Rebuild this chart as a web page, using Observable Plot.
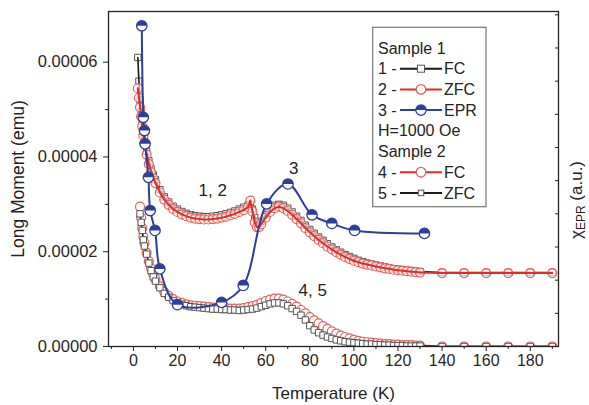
<!DOCTYPE html>
<html><head><meta charset="utf-8">
<script src="https://cdn.jsdelivr.net/npm/d3@7"></script>
<script src="https://cdn.jsdelivr.net/npm/@observablehq/plot@0.6"></script>
<style>
body{margin:0;background:#fff;font-family:"Liberation Sans",Arial,sans-serif;}
#chart{position:relative;width:589px;height:405px;overflow:hidden;}
</style>
</head><body><div id="chart"></div>
<script>
// ---- Data (moment values in units of 1e-5 emu) ----
const s1Temp = [2,2.5,3,3.5,4,4.5,5,6,7,8,9,10,12,14,16,18,20,22,24,26,28,30,32,34,36,38,40,42,44,46,48,50,52,53,54,55,56,57,58,60,62,64,66,68,70,72,74,76,78,80,82,84,86,88,90,92,94,96,98,100,102,104,106,108,110,112,114,116,118,120,122,124,126,128,130,140,150,160,170,180,190];
const s1FC = [6.1,5.6,5.2,4.95,4.75,4.55,4.4,4.12,3.92,3.75,3.62,3.52,3.31,3.16,3.05,2.96,2.9,2.85,2.81,2.78,2.76,2.75,2.74,2.74,2.75,2.76,2.78,2.8,2.83,2.86,2.9,2.94,2.98,3.0,2.9,2.72,2.6,2.58,2.64,2.78,2.9,2.98,3.0,2.98,2.92,2.84,2.75,2.66,2.56,2.47,2.39,2.31,2.24,2.17,2.1,2.04,1.99,1.94,1.9,1.86,1.82,1.79,1.76,1.74,1.72,1.7,1.68,1.66,1.64,1.63,1.62,1.61,1.6,1.59,1.58,1.56,1.56,1.56,1.56,1.56,1.56];
const s1ZFC = [5.45,5.25,5.05,4.85,4.65,4.45,4.3,4.05,3.85,3.68,3.55,3.45,3.25,3.1,2.99,2.9,2.84,2.79,2.75,2.72,2.7,2.69,2.68,2.68,2.69,2.7,2.72,2.74,2.77,2.8,2.84,2.88,2.94,3.08,2.85,2.62,2.52,2.52,2.58,2.72,2.84,2.92,2.95,2.92,2.86,2.78,2.69,2.6,2.5,2.41,2.33,2.25,2.18,2.11,2.05,1.99,1.94,1.89,1.85,1.81,1.78,1.75,1.73,1.71,1.69,1.67,1.65,1.64,1.62,1.61,1.6,1.59,1.58,1.57,1.56,1.55,1.55,1.55,1.55,1.55,1.55];

const s2Temp = [3,3.5,4,4.5,5,6,7,8,9,10,12,14,16,18,20,22,24,26,28,30,32,34,36,38,40,42,44,46,48,50,52,54,56,58,60,62,64,66,68,70,72,74,76,78,80,82,84,86,88,90,92,94,96,98,100,102,104,106,108,110,112,114,116,118,120,122,124,126,128,130,140,150,160,170,180,190];
const s2FC = [2.95,2.72,2.5,2.32,2.18,1.98,1.8,1.65,1.52,1.42,1.27,1.15,1.07,1.0,0.95,0.92,0.89,0.87,0.86,0.85,0.84,0.83,0.82,0.82,0.81,0.81,0.8,0.8,0.8,0.81,0.83,0.85,0.88,0.92,0.96,0.99,1.01,1.01,0.99,0.95,0.9,0.84,0.77,0.7,0.62,0.55,0.49,0.43,0.37,0.32,0.27,0.23,0.2,0.17,0.14,0.12,0.1,0.09,0.08,0.07,0.06,0.05,0.05,0.04,0.04,0.03,0.03,0.03,0.02,0.02,0,0,0,0,0,0];
const s2ZFC = [2.8,2.62,2.45,2.25,2.12,1.95,1.76,1.6,1.47,1.38,1.24,1.12,1.04,0.97,0.92,0.89,0.86,0.84,0.83,0.82,0.81,0.8,0.79,0.79,0.78,0.78,0.77,0.77,0.76,0.77,0.78,0.79,0.81,0.84,0.87,0.9,0.92,0.92,0.9,0.86,0.8,0.74,0.66,0.56,0.44,0.35,0.29,0.24,0.2,0.17,0.14,0.12,0.1,0.09,0.08,0.07,0.06,0.05,0.05,0.04,0.04,0.03,0.03,0.02,0.02,0.02,0.01,0.01,0.01,0.01,0,0,0,0,0,0];

// EPR susceptibility (a.u., right axis)
const eprTemp = [3.8,4.5,5.0,5.3,6.8,7.6,9.8,12,20,40,49.8,60.4,70.1,81,90,100.3,132];
const eprChi  = [9.67,6.91,6.51,6.11,5.10,4.10,3.50,2.34,1.26,1.33,1.84,4.30,4.90,3.97,3.71,3.50,3.41];
const eprTicks = [0,1,2,3,4,5,6,7,8,9,10];
const eprToEmu = 0.7e-5;   // right-axis unit expressed in left-axis units

const xTicks = [0,20,40,60,80,100,120,140,160,180];
const xMinor = [-10,10,30,50,70,90,110,130,150,170,190];
const yTicks = [0,0.00002,0.00004,0.00006];
const yMinor = [0.00001,0.00003,0.00005];

const annText = ["1, 2","3","4, 5"];
const annT = [36,72.7,81.3];
const annM = [3.29e-5,3.75e-5,1.18e-5];

// ---- Build tables ----
const E = 1e-5;
const s1 = s1Temp.map((t,i)=>({t, fc:s1FC[i]*E, zfc:s1ZFC[i]*E}));
const s2 = s2Temp.map((t,i)=>({t, fc:s2FC[i]*E, zfc:s2ZFC[i]*E}));
const epr = eprTemp.map((t,i)=>({t, m:eprChi[i]*eprToEmu}));
const ann = annText.map((s,i)=>({s, t:annT[i], m:annM[i]}));

const RED="#e32b26", RED_M="#e8605a", BLK="#1a1a1a", SQ="#555", BLUE="#2d3e9c";
const halfTop = {draw(ctx,size){const r=Math.sqrt(size/Math.PI);ctx.moveTo(r,0);ctx.arc(0,0,r,0,Math.PI,true);ctx.closePath();}};

const font = "Liberation Sans, Arial, sans-serif";
const svg = Plot.plot({
  width:589, height:405,
  marginLeft:108, marginRight:31, marginTop:11, marginBottom:59,
  style:{fontFamily:font, fontSize:"16px", color:"#262626", background:"white"},
  x:{domain:[-11.3,192.8]},
  y:{domain:[0,7.07e-5]},
  marks:[
    // sample 2
    Plot.line(s2,{x:"t",y:"fc",stroke:RED,strokeWidth:2,clip:true}),
    Plot.dot(s2,{x:"t",y:"fc",r:4.5,stroke:RED_M,strokeWidth:1.2,fill:"white",clip:true}),
    Plot.line(s2,{x:"t",y:"zfc",stroke:BLK,strokeWidth:1.6,clip:true}),
    Plot.dot(s2,{x:"t",y:"zfc",symbol:"square",r:3.6,stroke:SQ,strokeWidth:1,fill:"white",clip:true}),
    // sample 1
    Plot.dot(s1,{x:"t",y:"fc",symbol:"square",r:3.6,stroke:SQ,strokeWidth:1,fill:"white",clip:true}),
    Plot.line(s1,{x:"t",y:"fc",stroke:BLK,strokeWidth:1.6,clip:true}),
    Plot.dot(s1,{x:"t",y:"zfc",r:4.5,stroke:RED_M,strokeWidth:1.2,fill:"white",fillOpacity:0.6,clip:true}),
    Plot.line(s1,{x:"t",y:"zfc",stroke:RED,strokeWidth:2,clip:true}),
    // EPR
    Plot.line(epr,{x:"t",y:"m",stroke:BLUE,strokeWidth:2,curve:"catmull-rom",clip:true}),
    Plot.dot(epr,{x:"t",y:"m",r:5.2,stroke:BLUE,strokeWidth:1.3,fill:"white",clip:true}),
    Plot.dot(epr,{x:"t",y:"m",r:5.2,symbol:halfTop,fill:BLUE,stroke:"none",clip:true}),
    // annotations
    Plot.text(ann,{x:"t",y:"m",text:"s",fontSize:17,fill:"#222"}),
    // axes
    Plot.frame({stroke:"#222",strokeWidth:1.3}),
    Plot.axisX({ticks:xTicks,tickSize:5,tickPadding:3,tickFormat:d=>String(d),label:null,fontSize:16,stroke:"#222"}),
    Plot.axisX({ticks:xMinor,tickSize:3,tickFormat:()=>"",label:null,stroke:"#222"}),
    Plot.axisY({ticks:yTicks,tickSize:5,tickPadding:6,tickFormat:d3.format(".5f"),label:null,fontSize:16.5,stroke:"#222"}),
    Plot.axisY({ticks:yMinor,tickSize:3,tickFormat:()=>"",label:null,stroke:"#222"}),
    Plot.axisY({anchor:"right",ticks:eprTicks.map(v=>v*eprToEmu),tickSize:4,dx:-4,tickFormat:()=>"",label:null,stroke:"#222"}),
    Plot.text(["Temperature (K)"],{frameAnchor:"bottom",dy:47,lineAnchor:"middle",fontSize:17,fill:"#222"}),
    Plot.text(["Long Moment (emu)"],{frameAnchor:"left",dx:-90,rotate:-90,textAnchor:"middle",lineAnchor:"middle",fontSize:17.5,fill:"#222"})
  ]
});
document.getElementById("chart").appendChild(svg);

// right-axis title with subscript
const s = d3.select(svg);
const rt = s.append("text").attr("transform","translate(578,200) rotate(-90)")
  .attr("text-anchor","middle").attr("dominant-baseline","middle")
  .attr("font-size",17).attr("fill","#222").attr("font-family",font);
rt.append("tspan").text("χ");
rt.append("tspan").attr("font-size",12).attr("dy",4).text("EPR");
rt.append("tspan").attr("dy",-4).text(" (a.u.)");

// legend box
const L = s.append("g").attr("font-family",font).attr("font-size",16).attr("fill","#222").attr("text-anchor","start");
L.append("rect").attr("x",372.7).attr("y",27.3).attr("width",113.3).attr("height",179.4)
  .attr("fill","white").attr("stroke","#777").attr("stroke-width",1.2);
const rows = [
  {pre:"Sample 1"},
  {pre:"1 -",lab:"FC",line:BLK,sym:"sq"},
  {pre:"2 -",lab:"ZFC",line:RED,sym:"circ"},
  {pre:"3 -",lab:"EPR",line:BLUE,sym:"half"},
  {pre:"H=1000 Oe"},
  {pre:"Sample 2"},
  {pre:"4 -",lab:"FC",line:RED,sym:"circ"},
  {pre:"5 -",lab:"ZFC",line:BLK,sym:"sqs"}
];
rows.forEach((r,i)=>{
  const cy = 48 + i*20.7;
  L.append("text").attr("x",378).attr("y",cy).attr("dy","0.35em").attr("text-anchor","start").text(r.pre);
  if(!r.lab) return;
  L.append("line").attr("x1",400).attr("x2",442).attr("y1",cy).attr("y2",cy).attr("stroke",r.line).attr("stroke-width",2);
  if(r.sym==="sq"||r.sym==="sqs"){
    const a = r.sym==="sq"?7:5.5;
    L.append("rect").attr("x",421-a/2).attr("y",cy-a/2).attr("width",a).attr("height",a).attr("fill","white").attr("stroke",SQ);
  } else if(r.sym==="circ"){
    L.append("circle").attr("cx",421).attr("cy",cy).attr("r",4.8).attr("fill","white").attr("stroke",RED_M).attr("stroke-width",1.3);
  } else {
    L.append("circle").attr("cx",421).attr("cy",cy).attr("r",5.2).attr("fill","white").attr("stroke",BLUE).attr("stroke-width",1.3);
    L.append("path").attr("d",d3.arc()({innerRadius:0,outerRadius:5.2,startAngle:-Math.PI/2,endAngle:Math.PI/2})).attr("transform",`translate(421,${cy})`).attr("fill",BLUE);
  }
  L.append("text").attr("x",444).attr("y",cy).attr("dy","0.35em").attr("text-anchor","start").text(r.lab);
});
</script>
</body></html>
